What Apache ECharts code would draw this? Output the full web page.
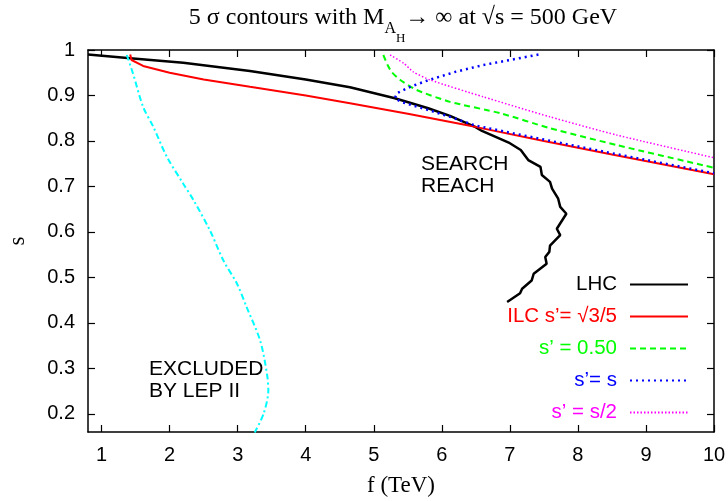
<!DOCTYPE html>
<html>
<head>
<meta charset="utf-8">
<script src="https://cdn.jsdelivr.net/npm/echarts@6/dist/echarts.min.js"></script>
<style>html,body{margin:0;padding:0;background:#fff}#c{width:728px;height:501px}</style>
</head>
<body>
<div id="c"></div>
<script>
const xTicks = [1,2,3,4,5,6,7,8,9,10];
const yTicks = [0.2,0.3,0.4,0.5,0.6,0.7,0.8,0.9,1];

const lhcF = [0.8,1.42,2.2,3.18,4.0,4.65,5.31,5.8,6.12,6.49,6.59,7.0,7.16,7.27,7.45,7.47,7.59,7.62,7.71,7.74,7.83,7.69,7.74,7.59,7.58,7.52,7.54,7.35,7.32,7.18,7.15,6.96];
const lhcS = [0.99,0.982,0.972,0.954,0.935,0.918,0.894,0.872,0.855,0.831,0.822,0.795,0.780,0.758,0.743,0.725,0.710,0.695,0.673,0.655,0.640,0.607,0.593,0.570,0.556,0.545,0.530,0.508,0.493,0.475,0.465,0.446];

const ilcF = [1.42,1.44,1.61,2.0,2.5,3.18,4.0,4.65,5.5,6.49,7.5,8.5,10];
const ilcS = [0.99,0.978,0.965,0.950,0.935,0.919,0.900,0.883,0.860,0.831,0.800,0.770,0.727];

const halfF = [5.14,5.2,5.26,5.39,5.63,6.12,6.86,7.59,8.57,10];
const halfS = [0.989,0.968,0.952,0.934,0.912,0.886,0.861,0.828,0.791,0.741];

const eqF = [7.42,7.0,6.61,6.2,5.83,5.55,5.34,5.31,5.4,5.8,6.12,6.49,7.5,8.5,10];
const eqS = [0.990,0.978,0.967,0.952,0.935,0.920,0.905,0.894,0.886,0.868,0.853,0.834,0.803,0.773,0.729];

const s2F = [5.24,5.44,5.58,5.83,6.61,7.59,8.57,10];
const s2S = [0.989,0.971,0.952,0.934,0.897,0.853,0.813,0.763];

const lepF = [1.37,1.46,1.61,1.76,1.96,2.20,2.35,2.59,2.79,2.99,3.13,3.33,3.43,3.45,3.38,3.25];
const lepS = [0.989,0.949,0.875,0.831,0.765,0.706,0.670,0.604,0.537,0.486,0.435,0.361,0.288,0.251,0.200,0.159];

const names = ['LHC','ILC s\u2019= \u221A3/5','s\u2019 = 0.50','s\u2019= s','s\u2019 = s/2'];
const colors = ['#000000','#ff0000','#00ff00','#0000ff','#ff00ff'];

function zip(a,b){return a.map((v,i)=>[v,b[i]]);}

const chart = echarts.init(document.getElementById('c'));
const sans = 'Liberation Sans';
const serif = 'Liberation Serif';

const tickCommon = {inside:true,length:7,lineStyle:{color:'#000',width:1.2}};
const axisLineCommon = {show:true,onZero:false,lineStyle:{color:'#000',width:1.5}};

chart.setOption({
  animation:false,
  backgroundColor:'#fff',
  title:{
    text:'{m|5 \u03C3 contours with M}{a|A}{h|H}{m|\u2192 \u221E at \u221As = 500 GeV}',
    left:398, top:1, textAlign:'center',
    textStyle:{
      fontWeight:'normal',
      rich:{
        m:{fontFamily:serif,fontSize:24,fontWeight:'normal',color:'#000',verticalAlign:'top',lineHeight:25},
        a:{fontFamily:serif,fontSize:16,fontWeight:'normal',color:'#000',verticalAlign:'top',padding:[15,0,0,0],lineHeight:17},
        h:{fontFamily:serif,fontSize:13,fontWeight:'normal',color:'#000',verticalAlign:'top',padding:[26,0,0,0],lineHeight:14}
      }
    }
  },
  grid:{left:88,right:14,top:50,bottom:69,containLabel:false,outerBoundsMode:'none'},
  xAxis:[{
    type:'value',min:0.8,max:10,
    name:'f (TeV)',nameLocation:'middle',nameGap:42,
    nameTextStyle:{fontFamily:serif,fontSize:23,color:'#000'},
    axisLine:axisLineCommon,
    axisTick:Object.assign({customValues:xTicks},tickCommon),
    axisLabel:{customValues:xTicks,fontFamily:sans,fontSize:20,color:'#000',margin:13},
    splitLine:{show:false}
  },{
    type:'value',min:0.8,max:10,position:'top',
    axisLine:axisLineCommon,
    axisTick:Object.assign({customValues:xTicks},tickCommon),
    axisLabel:{show:false},splitLine:{show:false}
  }],
  yAxis:[{
    type:'value',min:0.16,max:1,
    name:'s',nameLocation:'middle',nameGap:59,nameRotate:90,
    nameTextStyle:{fontFamily:serif,fontSize:23,color:'#000'},
    axisLine:axisLineCommon,
    axisTick:Object.assign({customValues:yTicks},tickCommon),
    axisLabel:{customValues:yTicks,fontFamily:sans,fontSize:20,color:'#000',margin:13},
    splitLine:{show:false}
  },{
    type:'value',min:0.16,max:1,position:'right',
    axisLine:axisLineCommon,
    axisTick:Object.assign({customValues:yTicks},tickCommon),
    axisLabel:{show:false},splitLine:{show:false}
  }],
  legend:{
    data:names.map((n,i)=>({name:n,textStyle:{color:colors[i]}})),
    orient:'vertical',align:'right',right:34,top:269,
    itemWidth:58,itemHeight:14,itemGap:11,
    itemStyle:{opacity:0,borderWidth:0},
    textStyle:{fontFamily:sans,fontSize:20.5,padding:[0,8,0,0]},
    selectedMode:false
  },
  graphic:[
    {type:'text',left:421,top:153,style:{text:'SEARCH\nREACH',font:'21px "Liberation Sans"',fill:'#000',lineHeight:22}},
    {type:'text',left:149,top:358,style:{text:'EXCLUDED\nBY LEP II',font:'21px "Liberation Sans"',fill:'#000',lineHeight:22,align:'center'}}
  ],
  series:[
    {name:names[0],type:'line',data:zip(lhcF,lhcS),symbol:'none',lineStyle:{color:colors[0],width:2.5},itemStyle:{color:colors[0]}},
    {name:names[1],type:'line',data:zip(ilcF,ilcS),symbol:'none',lineStyle:{color:colors[1],width:2},itemStyle:{color:colors[1]}},
    {name:names[2],type:'line',data:zip(halfF,halfS),symbol:'none',smooth:0.2,lineStyle:{color:colors[2],width:2,type:[6,4]},itemStyle:{color:colors[2]}},
    {name:names[3],type:'line',data:zip(eqF,eqS),symbol:'none',lineStyle:{color:colors[3],width:2.5,type:[2,4]},itemStyle:{color:colors[3]}},
    {name:names[4],type:'line',data:zip(s2F,s2S),symbol:'none',smooth:0.2,lineStyle:{color:colors[4],width:1.5,type:[1.5,2]},itemStyle:{color:colors[4]}},
    {name:'LEP',type:'line',data:zip(lepF,lepS),symbol:'none',smooth:0.3,lineStyle:{color:'#00ffff',width:2,type:[6,3,2,3]},itemStyle:{color:'#00ffff'}}
  ]
});
</script>
</body>
</html>
